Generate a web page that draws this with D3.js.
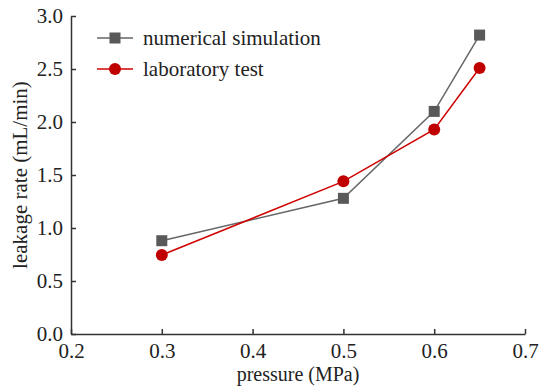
<!DOCTYPE html>
<html>
<head>
<meta charset="utf-8">
<script src="https://cdn.jsdelivr.net/npm/d3@7"></script>
<style>
  body { margin: 0; background: #fff; }
  text { font-family: "Liberation Serif", "Times New Roman", serif; }
</style>
</head>
<body>
<div id="wrapper"></div>
<script>
const pressure = [0.3, 0.5, 0.6, 0.65]
const simulation = [0.88, 1.28, 2.10, 2.82]
const labTest = [0.745, 1.44, 1.93, 2.51]
const xTicks = [0.2, 0.3, 0.4, 0.5, 0.6, 0.7]
const yTicks = [0, 0.5, 1.0, 1.5, 2.0, 2.5, 3.0]

const dimensions = {
    width: 539,
    height: 387,
    margin: { top: 16, right: 14, bottom: 53, left: 71 }
}
dimensions.boundedWidth = dimensions.width - dimensions.margin.left - dimensions.margin.right
dimensions.boundedHeight = dimensions.height - dimensions.margin.top - dimensions.margin.bottom

const wrapper = d3.select('#wrapper')
    .append('svg')
    .attr('width', dimensions.width)
    .attr('height', dimensions.height)

const bounds = wrapper.append('g')
    .attr('transform', `translate(${dimensions.margin.left}, ${dimensions.margin.top})`)

const scaleX = d3.scaleLinear()
    .domain([0.2, 0.7])
    .range([0, 454])

const scaleY = d3.scaleLinear()
    .domain([0, 3])
    .range([dimensions.boundedHeight, 0])

// axes, ticks pointing inward
const xAxis = bounds.append('g')
    .attr('transform', `translate(0, ${dimensions.boundedHeight})`)
    .call(d3.axisBottom(scaleX).tickValues(xTicks).tickFormat(d3.format('.1f')).tickSizeInner(-5).tickSizeOuter(0).tickPadding(9))
const yAxis = bounds.append('g')
    .call(d3.axisLeft(scaleY).tickValues(yTicks).tickFormat(d3.format('.1f')).tickSizeInner(-5).tickSizeOuter(0).tickPadding(8))

bounds.selectAll('.domain, .tick line')
    .attr('stroke', '#333')
    .attr('stroke-width', 1.5)
bounds.selectAll('.tick text')
    .attr('fill', '#222')
    .style('font-size', '21px')
    .style('font-family', '"Liberation Serif", serif')

// draw data
const series = [
    { name: 'numerical simulation', values: simulation, color: '#666666', fill: '#595959', shape: 'square' },
    { name: 'laboratory test', values: labTest, color: '#d00000', fill: '#c00000', shape: 'circle' }
]

const lineGenerator = d3.line()
    .x(d => scaleX(d[0]))
    .y(d => scaleY(d[1]))

const drawMarker = (g, shape, fill) => {
    if (shape === 'square') {
        g.append('rect')
            .attr('x', -5.5).attr('y', -5.5)
            .attr('width', 11).attr('height', 11)
            .attr('fill', fill)
    } else {
        g.append('circle').attr('r', 6).attr('fill', fill)
    }
}

series.forEach(s => {
    const points = pressure.map((p, i) => [p, s.values[i]])
    bounds.append('path')
        .datum(points)
        .attr('d', lineGenerator)
        .attr('fill', 'none')
        .attr('stroke', s.color)
        .attr('stroke-width', 1.5)
    points.forEach(pt => {
        const g = bounds.append('g')
            .attr('transform', `translate(${scaleX(pt[0])}, ${scaleY(pt[1])})`)
        drawMarker(g, s.shape, s.fill)
    })
})

// legend
const legend = wrapper.append('g')
    .attr('transform', 'translate(97, 38)')
series.forEach((s, i) => {
    const row = legend.append('g').attr('transform', `translate(0, ${i * 31})`)
    row.append('line')
        .attr('x1', 0).attr('x2', 36)
        .attr('stroke', s.color).attr('stroke-width', 1.5)
    drawMarker(row.append('g').attr('transform', 'translate(18, 0)'), s.shape, s.fill)
    row.append('text')
        .text(s.name)
        .attr('x', 46)
        .attr('y', 0)
        .attr('dy', '0.32em')
        .attr('fill', '#222')
        .style('font-size', '21px')
})

// axis titles
wrapper.append('text')
    .text('pressure (MPa)')
    .attr('x', dimensions.margin.left + 227)
    .attr('y', 381)
    .attr('text-anchor', 'middle')
    .attr('fill', '#222')
    .style('font-size', '20px')

wrapper.append('text')
    .text('leakage rate (mL/min)')
    .attr('transform', `translate(27, ${dimensions.margin.top + dimensions.boundedHeight / 2}) rotate(-90)`)
    .attr('text-anchor', 'middle')
    .attr('fill', '#222')
    .style('font-size', '21px')
</script>
</body>
</html>
